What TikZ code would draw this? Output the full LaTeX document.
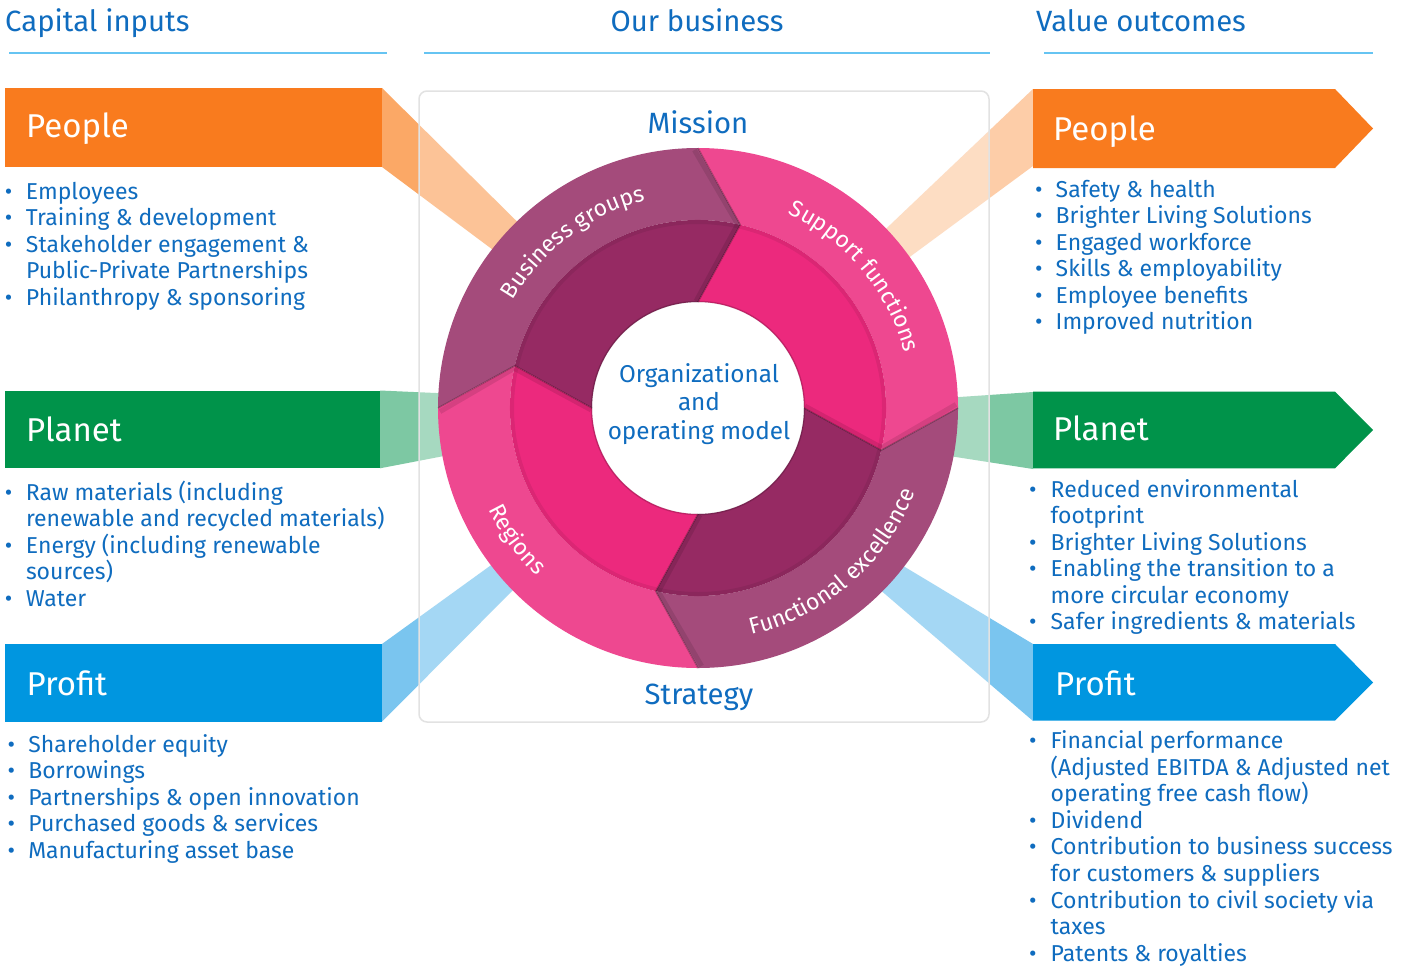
\documentclass[tikz,border=0pt]{standalone}
\usepackage{fontspec}
\setmainfont{Fira Sans}
\usetikzlibrary{decorations.text}
\definecolor{tblue}{HTML}{0F6CBF}
\definecolor{uline}{HTML}{66C4F2}
\definecolor{cor}{HTML}{F97B1E}
\definecolor{cgr}{HTML}{00934A}
\definecolor{cbl}{HTML}{0096E0}
\definecolor{bandor}{HTML}{FBA866}
\definecolor{bandorR}{HTML}{FDCDA8}
\definecolor{bandgr}{HTML}{7DC8A3}
\definecolor{bandbl}{HTML}{7AC5EF}
\definecolor{ringA}{HTML}{A44B7B}
\definecolor{ringAi}{HTML}{962A63}
\definecolor{ringB}{HTML}{EE4890}
\definecolor{ringBi}{HTML}{EC297D}
\definecolor{framec}{HTML}{E2E2E2}
\newcommand\ringfont{\fontsize{23}{23}\selectfont\color{white}}
% bullet line: name, bullet x, gap, baseline y, text
\newcommand\bl[5]{\node[itm] (#1) at (#2,#4) {\makebox[#3pt][l]{\textbullet}#5};}
% continuation line: name, text x, baseline y, text
\newcommand\cl[4]{\node[itm] (#1) at (#2,#3) {#4};}
\newcommand\ringseg[3]{%
  \fill[#2] (#1:260) arc[start angle=#1, end angle={#1-90}, radius=260]
     -- ({#1-103}:188) arc[start angle={#1-103}, end angle={#1-13}, radius=188] -- cycle;
  \fill[#3] ({#1-13}:188) arc[start angle={#1-13}, end angle={#1-103}, radius=188]
     -- ({#1-90}:106) arc[start angle={#1-90}, end angle=#1, radius=106] -- cycle;}
\newcommand\chev[1]{%
  \draw[black, opacity=0.10, line width=5, line join=round] ({#1+0.8}:258) -- ({#1-12.2}:188) -- ({#1+1}:107);
  \draw[black, opacity=0.25, line width=1.4, line join=round] (#1:260) -- ({#1-13}:188) -- (#1:106);}
\begin{document}
\begin{tikzpicture}[x=1pt,y=-1pt,
  itm/.style={anchor=base west, inner sep=0pt, outer sep=0pt, text=tblue, font=\fontsize{23}{26.5}\selectfont},
  ttl/.style={anchor=base west, inner sep=0pt, text=white, font=\fontsize{33}{33}\selectfont},
  hdr/.style={inner sep=0pt, text=tblue, font=\fontsize{29.3}{29.3}\selectfont},
  box/.style={anchor=north west, inner sep=0pt, outer sep=0pt, minimum width=376.7pt},
  ulin/.style={uline, line width=2.5pt}]
\useasboundingbox (0,0) rectangle (1412,969);
\fill[white] (0,0) rectangle (1412,969);

% headers
\node[hdr, anchor=base west] (hcap) at (5,31) {Capital inputs};
\node[hdr, anchor=base] (hbus) at (697,31) {Our business};
\node[hdr, anchor=base] (hval) at (1141,31) {Value outcomes};
\coordinate (u1a) at (9,53); \coordinate (u1b) at (387,53);
\coordinate (u2a) at (424,53); \coordinate (u2b) at (990,53);
\coordinate (u3a) at (1044,53); \coordinate (u3b) at (1373,53);
\draw[ulin] (u1a) -- (u1b);
\draw[ulin] (u2a) -- (u2b);
\draw[ulin] (u3a) -- (u3b);

% bands
\fill[bandor] (382,88) -- (560,264) -- (540,285) -- (382,167) -- cycle;
\fill[bandgr] (380,390.5) -- (470,394.5) -- (470,451) -- (380,468.3) -- cycle;
\fill[bandbl] (382,644) -- (530,537) -- (530,573) -- (382,721.7) -- cycle;
\fill[bandorR] (1033,89) -- (850,263) -- (850,301) -- (1033,166) -- cycle;
\fill[bandgr] (1033,392) -- (930,399) -- (930,453) -- (1033,469) -- cycle;
\fill[bandbl] (1033,644) -- (850,534) -- (850,564) -- (1033,721) -- cycle;

% frame
\node[draw=framec, line width=1.5pt, rounded corners=8pt, fill=white, fill opacity=0.32,
      minimum width=570pt, minimum height=631pt, inner sep=0pt] (frame) at (704,406.5) {};

% left boxes
\node[box, fill=cor, minimum height=78.4pt] (inPeople) at (5,88.3) {};
\node[box, fill=cgr, minimum height=77.6pt, minimum width=375pt] (inPlanet) at (5,390.7) {};
\node[box, fill=cbl, minimum height=77.7pt] (inProfit) at (5,644) {};
\node[ttl] (tInPeople) at (26,137.5) {People};
\node[ttl] (tInPlanet) at (26,441.5) {Planet};
\node[ttl] (tInProfit) at (26.5,695) {Profit};

% right arrow boxes
\fill[cor] (1033,89) -- (1335,89) -- (1373,128.5) -- (1335,168) -- (1033,168) -- cycle;
\fill[cgr] (1033,391.7) -- (1335,391.7) -- (1373,430) -- (1335,468.3) -- (1033,468.3) -- cycle;
\fill[cbl] (1033,644) -- (1335,644) -- (1373,682.5) -- (1335,720.7) -- (1033,720.7) -- cycle;
\node[ttl] (tOutPeople) at (1053,140) {People};
\node[ttl] (tOutPlanet) at (1053,440) {Planet};
\node[ttl] (tOutProfit) at (1055,695) {Profit};

% ring
\begin{scope}[shift={(698pt,-408pt)}, x=1pt, y=1pt]
  \ringseg{180}{ringA}{ringAi}
  \ringseg{90}{ringB}{ringBi}
  \ringseg{0}{ringA}{ringAi}
  \ringseg{270}{ringB}{ringBi}
  \draw[black, opacity=0.07, line width=4] (0,0) circle (186);
  \draw[black, opacity=0.18, line width=1.5] (0,0) circle (106.5);
  \chev{180}\chev{90}\chev{0}\chev{270}
  \path[decorate, decoration={text along path, text align=center,
     text={|\ringfont|Business groups}}] (167:214) arc[start angle=167, end angle=87, radius=214];
  \path[decorate, decoration={text along path, text align=center,
     text={|\ringfont|Support functions}}] (80:214) arc[start angle=80, end angle=0, radius=214];
  \path[decorate, decoration={text along path, text align=center,
     text={|\ringfont|Regions}}] (176:233) arc[start angle=176, end angle=256, radius=233];
  \path[decorate, decoration={text along path, text align=center,
     text={|\ringfont|Functional excellence}}] (271:233) arc[start angle=271, end angle=351, radius=233];
\end{scope}
\node[align=center, inner sep=0pt, text=tblue, font=\fontsize{24.3}{28.5}\selectfont] (core) at (699,404)
  {Organizational\\and\\operating model};
\node[hdr, anchor=base] (mission) at (698,133) {Mission};
\node[hdr, anchor=base] (strategy) at (699,704) {Strategy};

% left lists
\bl{lp1}{5}{21}{199}{Employees}
\bl{lp2}{5}{21}{225.5}{Training \& development}
\bl{lp3}{5}{21}{252}{Stakeholder engagement \&}
\cl{lp4}{26}{278.5}{Public-Private Partnerships}
\bl{lp5}{5}{21}{305}{Philanthropy \& sponsoring}

\bl{lg1}{5}{21}{500}{Raw materials (including}
\cl{lg2}{26}{526.5}{renewable and recycled materials)}
\bl{lg3}{5}{21}{553}{Energy (including renewable}
\cl{lg4}{26}{579.5}{sources)}
\bl{lg5}{5}{21}{606}{Water}

\bl{lb1}{7.7}{20.6}{752}{Shareholder equity}
\bl{lb2}{7.7}{20.6}{778.5}{Borrowings}
\bl{lb3}{7.7}{20.6}{805}{Partnerships \& open innovation}
\bl{lb4}{7.7}{20.6}{831.5}{Purchased goods \& services}
\bl{lb5}{7.7}{20.6}{858}{Manufacturing asset base}

% right lists
\bl{rp1}{1035}{20.7}{197}{Safety \& health}
\bl{rp2}{1035}{20.7}{223.5}{Brighter Living Solutions}
\bl{rp3}{1035}{20.7}{250}{Engaged workforce}
\bl{rp4}{1035}{20.7}{276.5}{Skills \& employability}
\bl{rp5}{1035}{20.7}{303}{Employee benefits}
\bl{rp6}{1035}{20.7}{329.5}{Improved nutrition}

\bl{rg1}{1029}{21.7}{497}{Reduced environmental}
\cl{rg2}{1050.7}{523.5}{footprint}
\bl{rg3}{1029}{21.7}{550}{Brighter Living Solutions}
\bl{rg4}{1029}{21.7}{576.5}{Enabling the transition to a}
\cl{rg5}{1050.7}{603}{more circular economy}
\bl{rg6}{1029}{21.7}{629.5}{Safer ingredients \& materials}

\bl{rb1}{1029}{21.7}{748.5}{Financial performance}
\cl{rb2}{1050.7}{775}{(Adjusted EBITDA \& Adjusted net}
\cl{rb3}{1050.7}{801.6}{operating free cash flow)}
\bl{rb4}{1029}{21.7}{828.2}{Dividend}
\bl{rb5}{1029}{21.7}{854.8}{Contribution to business success}
\cl{rb6}{1050.7}{881.4}{for customers \& suppliers}
\bl{rb7}{1029}{21.7}{908}{Contribution to civil society via}
\cl{rb8}{1050.7}{934.6}{taxes}
\bl{rb9}{1029}{21.7}{961.2}{Patents \& royalties}
\end{tikzpicture}
\end{document}
